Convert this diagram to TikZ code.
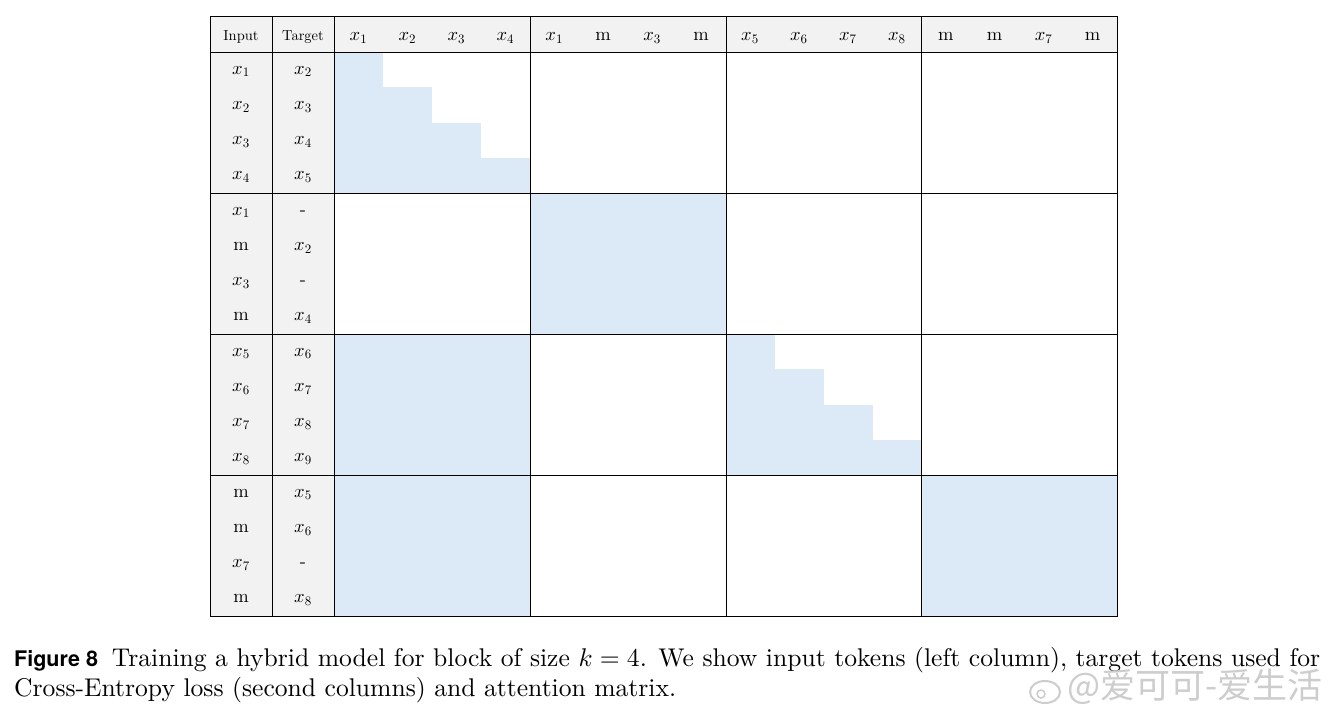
\documentclass[tikz,border=0pt]{standalone}
\usepackage{fontspec}
\setmainfont{lmroman10-regular.otf}[BoldFont=lmroman10-bold.otf, ItalicFont=lmroman10-italic.otf]
\newfontfamily\headsans{TeX Gyre Heros}
\newfontfamily\cjk{Noto Sans CJK SC}
\DeclareFontShape{OML}{cmm}{m}{it}{<->cmmi10}{}
\DeclareFontShape{OT1}{cmr}{m}{n}{<->cmr10}{}
\DeclareFontShape{OMS}{cmsy}{m}{n}{<->cmsy10}{}
\definecolor{maskblue}{RGB}{220,234,247}
\definecolor{headgray}{RGB}{242,242,242}
\definecolor{wmgray}{RGB}{205,205,205}
\tikzset{
  gridline/.style={line width=0.9pt, draw=black},
  celltext/.style={anchor=base, inner sep=0pt, font=\fontsize{18.5}{22}\selectfont},
  headlabel/.style={anchor=base, inner sep=0pt, font=\fontsize{14.5}{17}\selectfont},
  masked/.style={fill=maskblue},
}
\begin{document}
\begin{tikzpicture}[x=1pt,y=-1pt]
\useasboundingbox[fill=white] (0,0) rectangle (1335,710);
\def\cw{48.9375}
\def\rh{35.25}
% header backgrounds
\fill[headgray] (210,16) rectangle (1117,52);
\fill[headgray] (210,52) rectangle (334,616);
% block 1: causal staircase
\foreach \i in {0,...,3}{
  \fill[masked] (334,{52+\i*\rh}) rectangle ({334+(\i+1)*\cw},{52+(\i+1)*\rh});
}
% block 2
\fill[masked] (530,193) rectangle (726,334);
% block 3
\fill[masked] (334,334) rectangle (530,475);
\foreach \i in {0,...,3}{
  \fill[masked] (726,{334+\i*\rh}) rectangle ({726+(\i+1)*\cw},{334+(\i+1)*\rh});
}
% block 4
\fill[masked] (334,475) rectangle (530,616);
\fill[masked] (921,475) rectangle (1117,616);
% grid lines
\draw[gridline] (210,16) rectangle (1117,616);
\foreach \yy in {52,193,334,475}{
  \draw[gridline] (210,\yy) -- (1117,\yy);
}
\foreach \xx in {272,334,530,726,921}{
  \draw[gridline] (\xx,16) -- (\xx,616);
}
% header labels
\node[headlabel] (hin) at (241,40) {Input};
\node[headlabel] (htg) at (303,40) {Target};
\foreach \lab [count=\c from 0] in {$x_1$,$x_2$,$x_3$,$x_4$,$x_1$,m,$x_3$,m,$x_5$,$x_6$,$x_7$,$x_8$,m,m,$x_7$,m}{
  \node[celltext] (h\c) at ({334+(\c+0.5)*\cw},40.5) {\lab};
}
% input column
\foreach \lab [count=\r from 0] in {$x_1$,$x_2$,$x_3$,$x_4$,$x_1$,m,$x_3$,m,$x_5$,$x_6$,$x_7$,$x_8$,m,m,$x_7$,m}{
  \node[celltext] (in\r) at (241,{52+(\r+0.5)*\rh+4.5}) {\lab};
}
% target column
\foreach \lab [count=\r from 0] in {$x_2$,$x_3$,$x_4$,$x_5$,-,$x_2$,-,$x_4$,$x_6$,$x_7$,$x_8$,$x_9$,$x_5$,$x_6$,-,$x_8$}{
  \node[celltext] (tg\r) at (303,{52+(\r+0.5)*\rh+4.5}) {\lab};
}
% caption
\node[anchor=base west, inner sep=0pt, font=\fontsize{25.6}{30}\selectfont] (cap1) at (14,666)
  {\makebox[1306pt][s]{{\headsans\bfseries\fontsize{21.5}{25}\selectfont Figure 8}\hspace{14pt}Training a hybrid model for block of size $k=4$. We show input tokens (left column), target tokens used for}};
\node[anchor=base west, inner sep=0pt, font=\fontsize{25.6}{30}\selectfont] (cap2) at (14,696)
  {Cross-Entropy loss (second columns) and attention matrix.};
% watermark
\draw[wmgray, line width=2pt] (1045,692) ellipse [x radius=15, y radius=11];
\draw[wmgray, line width=1.5pt] (1041,694) circle [radius=4];
\node[anchor=center, inner sep=0pt, text=wmgray, font=\cjk\fontsize{35}{40}\selectfont] (wm) at (1195,687) {@爱可可-爱生活};
\end{tikzpicture}
\end{document}
